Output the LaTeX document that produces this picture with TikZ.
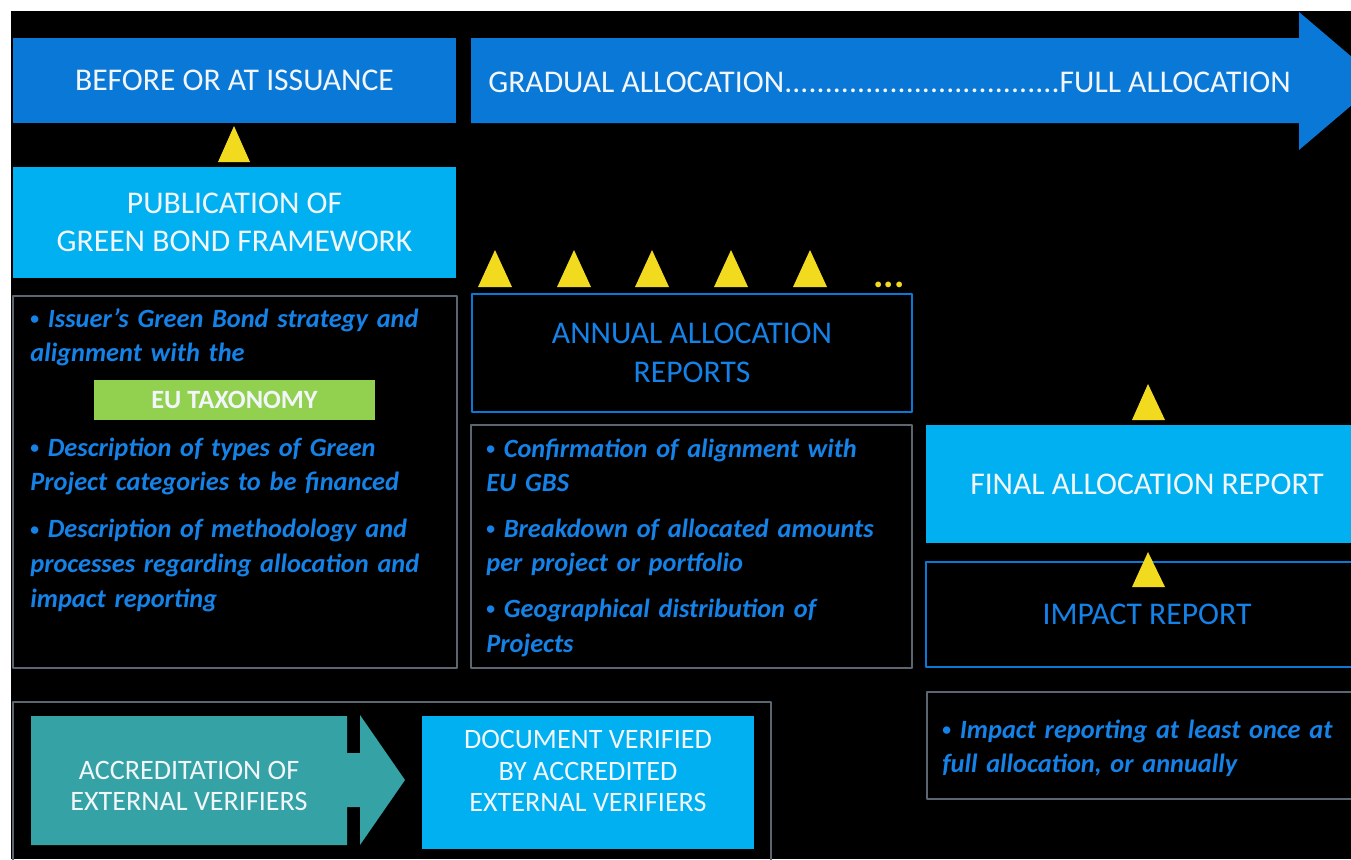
\documentclass[tikz,border=0pt]{standalone}
\usepackage{fontspec}
\setmainfont{Carlito}
\usetikzlibrary{fit}
\definecolor{hdblue}{HTML}{0A78D6}
\definecolor{skyblue}{HTML}{00B0F0}
\definecolor{txtblue}{HTML}{1582E8}
\definecolor{boxgray}{HTML}{5B6670}
\definecolor{tealc}{HTML}{35A3A6}
\definecolor{markyellow}{HTML}{F2DA1E}
\definecolor{taxgreen}{HTML}{92D050}
\definecolor{softwhite}{HTML}{F2F6FA}
\newcommand{\bul}{{\fontsize{10}{10}\selectfont\upshape\raisebox{1.5pt}{•}}\ }
\begin{document}
\begin{tikzpicture}[x=0.02cm, y=-0.02cm, line join=round,
  every node/.style={inner sep=0pt},
  capsfont/.style={font=\fontsize{18}{22}\selectfont, align=center},
  headbox/.style={fill=hdblue},
  skybox/.style={fill=skyblue},
  linebox/.style={draw=hdblue, line width=1.1pt},
  notebox/.style={draw=boxgray, line width=0.8pt},
  whitetext/.style={capsfont, text=softwhite},
  bluetext/.style={capsfont, text=txtblue},
  notetext/.style={anchor=base west, text width=9.6cm, align=left, text=txtblue,
    font=\fontsize{15}{19.8}\selectfont\bfseries\itshape},
  verifytext/.style={text=softwhite, align=center, font=\fontsize{16}{17.8}\selectfont},
  marker/.style={fill=markyellow}]
% page, white margin top and left
\useasboundingbox (0,0) rectangle (1351,859);
\fill[white] (0,0) rectangle (1351,859);
\fill[black] (11,11) rectangle (1351,859);
\clip (11,11) rectangle (1351,859);

% time line
\node[headbox, fit={(13,38) (456,123)}] (issue) {};
\node[whitetext] (issuetext) at (issue.center) {BEFORE OR AT ISSUANCE};
\fill[hdblue] (471,38) -- (1299,38) -- (1299,12) -- (1380,81) -- (1299,150)
  -- (1299,123) -- (471,123) -- cycle;
\node[whitetext, anchor=base west] (gradual) at (488,92)
  {\hbox to 457pt{GRADUAL ALLOCATION\xleaders\hbox{.}\hfill FULL ALLOCATION}};

% before or at issuance
\fill[marker] (218,162) -- (250,162) -- (234,126) -- cycle;
\node[skybox, fit={(13,167) (456,278)}] (framework) {};
\node[whitetext] (frameworktext) at (framework.center) {PUBLICATION OF\\GREEN BOND FRAMEWORK};
\node[notebox, fit={(13,296) (457,668)}] (fwnotes) {};
\node[notetext] (fwtext1) at (30,327) {\bul Issuer’s Green Bond strategy and\\alignment with the};
\node[fill=taxgreen, fit={(94,380) (375,420)}] (taxonomy) {};
\node[text=softwhite, font=\fontsize{15}{18}\selectfont\bfseries] (taxonomytext)
  at (taxonomy.center) {EU TAXONOMY};
\node[notetext] (fwtext2) at (30,456) {\bul Description of types of Green\\Project categories to be financed\\[7pt]%
  \bul Description of methodology and\\processes regarding allocation and\\impact reporting};

% gradual allocation
\foreach \cx in {495,574,652,731,810}
  \fill[marker] (\cx-17,287) -- (\cx+17,287) -- (\cx,250) -- cycle;
\node[text=markyellow, font=\fontsize{22}{22}\selectfont\bfseries, anchor=base] (more) at (889,287) {...};
\node[linebox, fit={(472,294) (912,412)}] (annual) {};
\node[bluetext] (annualtext) at (annual.center) {ANNUAL ALLOCATION\\REPORTS};
\node[notebox, fit={(471,425) (912,668)}] (annualnotes) {};
\node[notetext] (annualbullets) at (486,457) {\bul Confirmation of alignment with\\EU GBS\\[6pt]%
  \bul Breakdown of allocated amounts\\per project or portfolio\\[6pt]%
  \bul Geographical distribution of\\Projects};

% full allocation
\fill[marker] (1132,420) -- (1165,420) -- (1148,384) -- cycle;
\node[skybox, fit={(926,425) (1368,543)}] (final) {};
\node[whitetext] (finaltext) at (final.center) {FINAL ALLOCATION REPORT};
\node[linebox, fit={(926,562) (1368,667)}] (impact) {};
\node[bluetext] (impacttext) at (impact.center) {IMPACT REPORT};
\fill[marker] (1132,587) -- (1165,587) -- (1148,552) -- cycle;
\node[notebox, fit={(927,692) (1369,799)}] (impactnotes) {};
\node[notetext] (impactbullets) at (942,738) {\bul Impact reporting at least once at\\full allocation, or annually};

% verification
\node[notebox, fit={(13,702) (771,880)}] (verify) {};
\fill[tealc] (31,716) -- (347,716) -- (347,753) -- (360,753) -- (360,715) -- (405,780)
  -- (360,845) -- (360,807) -- (347,807) -- (347,845) -- (31,845) -- cycle;
\node[verifytext] (accredit) at (189,786) {ACCREDITATION OF\\EXTERNAL VERIFIERS};
\node[fill=skyblue, fit={(422,716) (754,849)}] (verified) {};
\node[verifytext] (verifiedtext) at (588,771) {DOCUMENT VERIFIED\\BY ACCREDITED\\EXTERNAL VERIFIERS};
\end{tikzpicture}
\end{document}
